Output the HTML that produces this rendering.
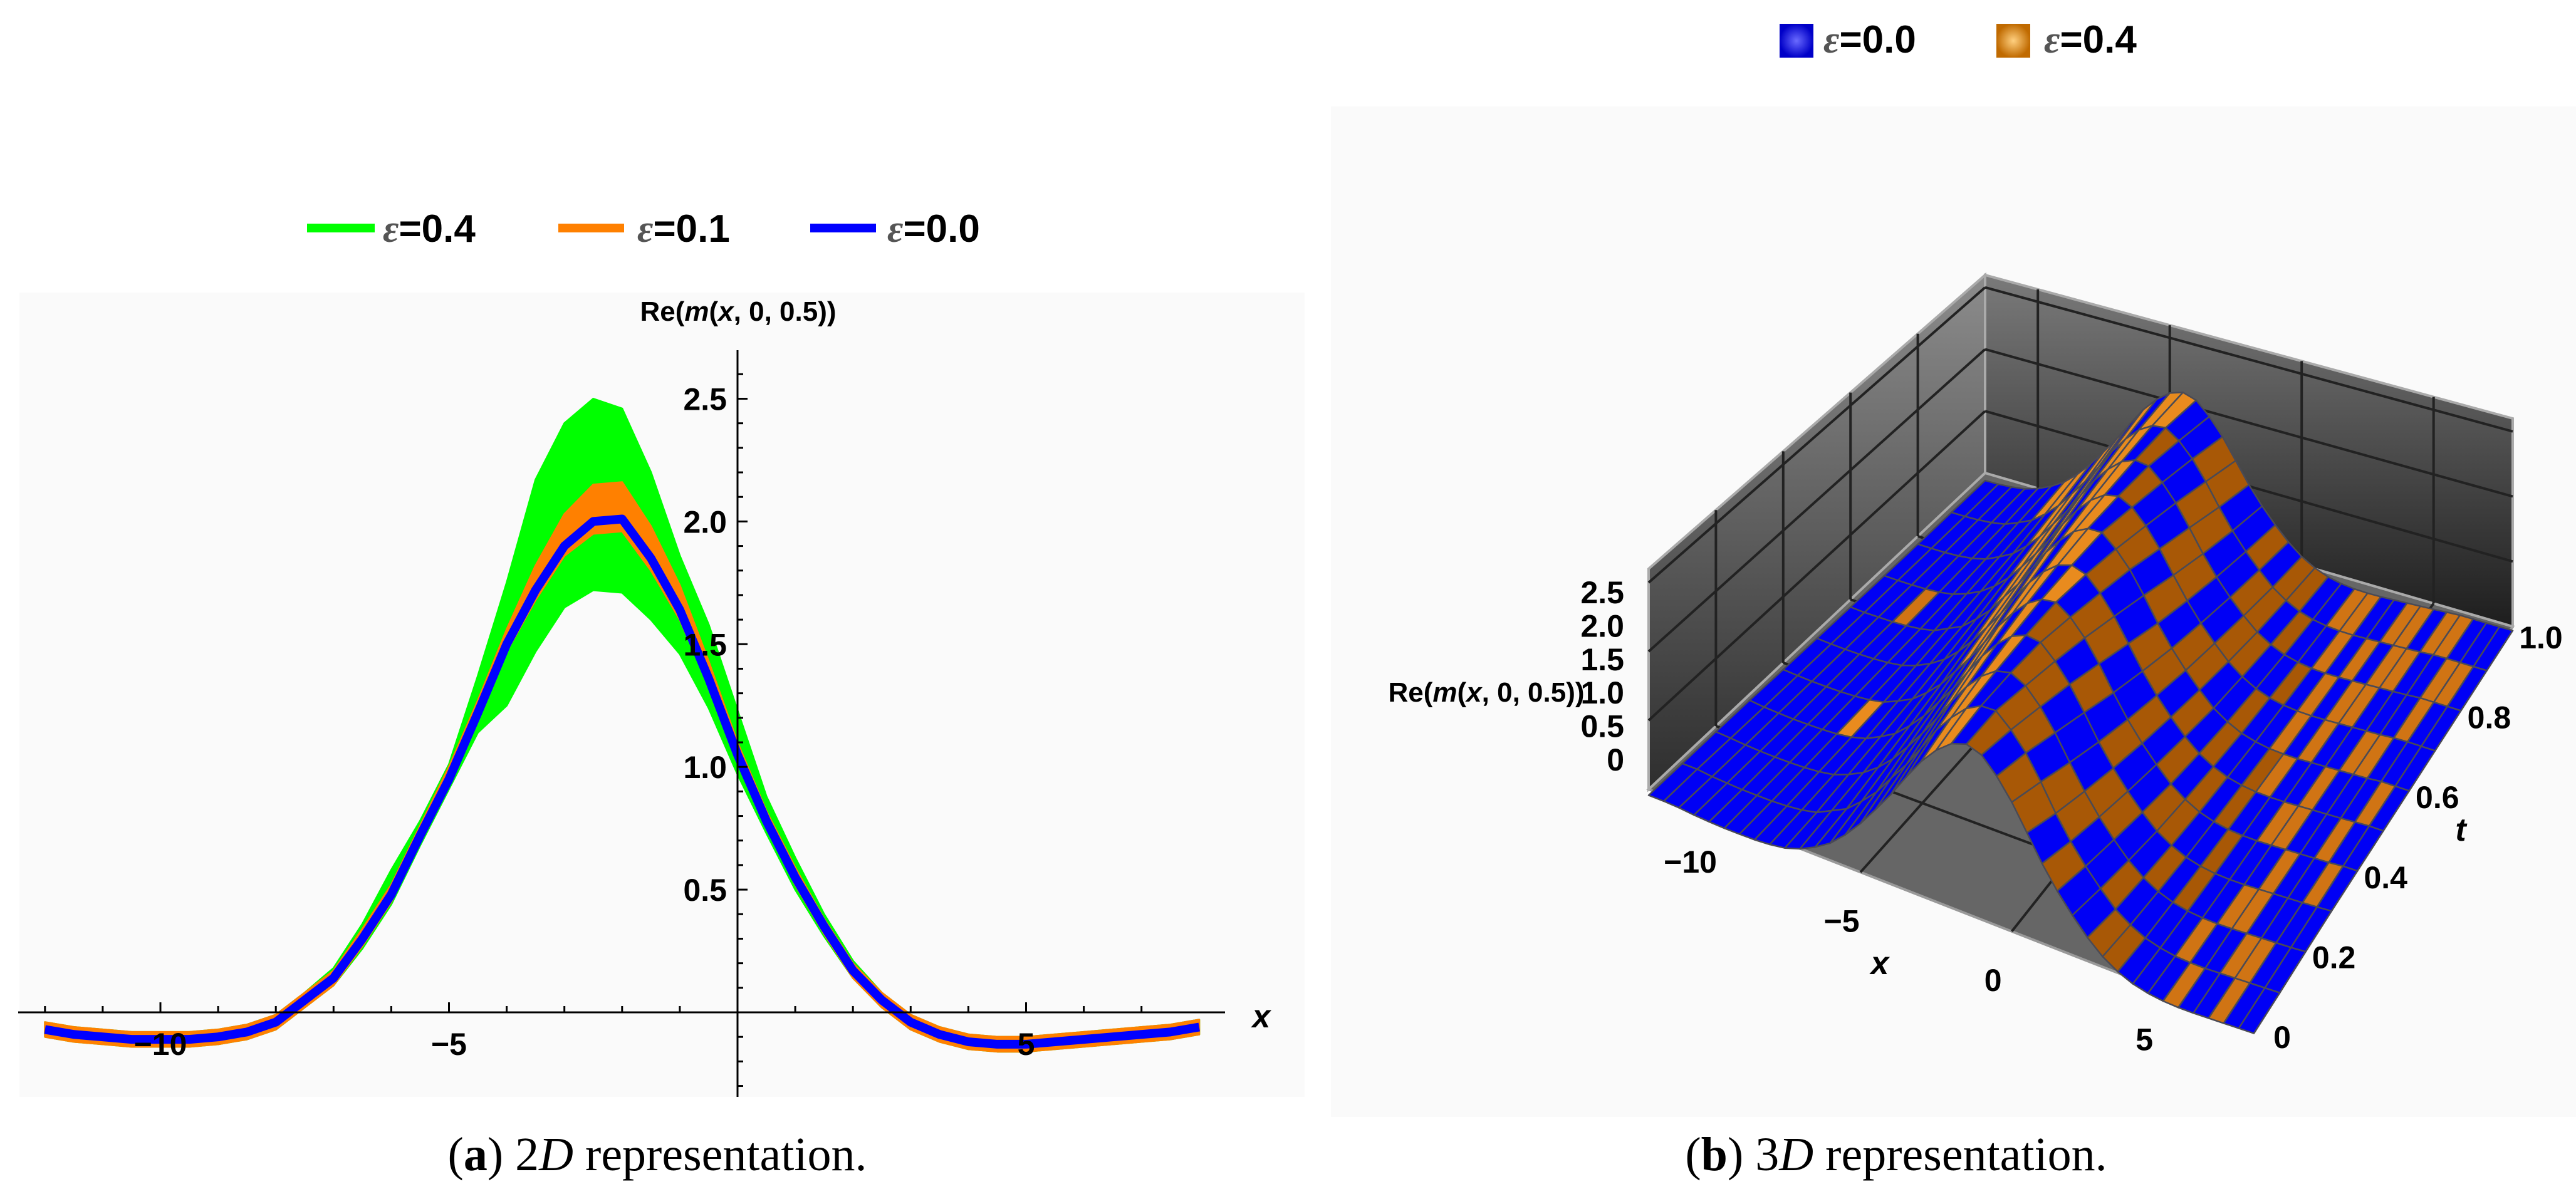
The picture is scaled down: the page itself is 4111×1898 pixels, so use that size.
<!DOCTYPE html>
<html><head><meta charset="utf-8"><style>
html,body{margin:0;padding:0;background:#fff;}
svg{display:block;}
</style></head><body>
<svg id="fig" width="4111" height="1898" viewBox="0 0 4111 1898" xmlns="http://www.w3.org/2000/svg" font-family="Liberation Sans, sans-serif">
<defs>
<linearGradient id="wallL" x1="0" y1="0" x2="0" y2="1"><stop offset="0" stop-color="#8c8c8c"/><stop offset="1" stop-color="#2e2e2e"/></linearGradient>
<linearGradient id="wallB" x1="0" y1="0" x2="0" y2="1"><stop offset="0" stop-color="#7a7a7a"/><stop offset="1" stop-color="#1e1e1e"/></linearGradient>
<radialGradient id="sqB"><stop offset="0" stop-color="#6a6aff"/><stop offset="1" stop-color="#0000c8"/></radialGradient>
<radialGradient id="sqO"><stop offset="0" stop-color="#ffd080"/><stop offset="1" stop-color="#c06a00"/></radialGradient>
</defs>
<rect x="31" y="467" width="2051" height="1284" fill="#fafafa"/>
<rect x="2124" y="170" width="1987" height="1613" fill="#fafafa"/>
<g id="legend2d">
 <line x1="490" y1="364" x2="598" y2="364" stroke="#00ff00" stroke-width="14"/>
 <text x="611" y="386" font-size="62" font-weight="bold"><tspan fill="#555" font-style="italic" style="font-family:'Liberation Serif',serif">ε</tspan>=0.4</text>
 <line x1="891" y1="364" x2="996" y2="364" stroke="#ff8000" stroke-width="14"/>
 <text x="1017" y="386" font-size="62" font-weight="bold"><tspan fill="#555" font-style="italic" style="font-family:'Liberation Serif',serif">ε</tspan>=0.1</text>
 <line x1="1293" y1="364" x2="1398" y2="364" stroke="#0000ff" stroke-width="14"/>
 <text x="1416" y="386" font-size="62" font-weight="bold"><tspan fill="#555" font-style="italic" style="font-family:'Liberation Serif',serif">ε</tspan>=0.0</text>
</g>
<g id="legend3d">
 <rect x="2840" y="38" width="54" height="54" fill="url(#sqB)"/>
 <text x="2910" y="84" font-size="62" font-weight="bold"><tspan fill="#555" font-style="italic" style="font-family:'Liberation Serif',serif">ε</tspan>=0.0</text>
 <rect x="3186" y="38" width="54" height="54" fill="url(#sqO)"/>
 <text x="3262" y="84" font-size="62" font-weight="bold"><tspan fill="#555" font-style="italic" style="font-family:'Liberation Serif',serif">ε</tspan>=0.4</text>
</g>
<g id="chart2d"></g>
<g id="chart3d"></g>
<text x="1049" y="1868" font-size="76" text-anchor="middle" style="font-family:'Liberation Serif',serif">(<tspan font-weight="bold">a</tspan>) 2<tspan font-style="italic">D</tspan> representation.</text>
<text x="3026" y="1868" font-size="76" text-anchor="middle" style="font-family:'Liberation Serif',serif">(<tspan font-weight="bold">b</tspan>) 3<tspan font-style="italic">D</tspan> representation.</text>
</svg>
<script>
// ---- data ----
const xValues = [-12,-11.5,-11,-10.5,-10,-9.5,-9,-8.5,-8,-7.5,-7,-6.5,-6,-5.5,-5,-4.5,-4,-3.5,-3,-2.5,-2,-1.5,-1,-0.5,0,0.5,1,1.5,2,2.5,3,3.5,4,4.5,5,5.5,6,6.5,7,7.5,8];
const eps00 = [-0.07,-0.09,-0.10,-0.11,-0.11,-0.11,-0.10,-0.08,-0.04,0.05,0.14,0.30,0.48,0.72,0.95,1.22,1.50,1.72,1.90,2.00,2.01,1.85,1.64,1.36,1.05,0.78,0.55,0.35,0.17,0.05,-0.04,-0.09,-0.12,-0.13,-0.13,-0.12,-0.11,-0.10,-0.09,-0.08,-0.06];
const eps01Up = [0.03,0.03,0.03,0.03,0.03,0.03,0.03,0.03,0.03,0.03,0.03,0.04,0.04,0.04,0.05,0.05,0.06,0.10,0.13,0.15,0.15,0.13,0.10,0.07,0.05,0.04,0.04,0.03,0.03,0.03,0.03,0.03,0.03,0.03,0.03,0.03,0.03,0.03,0.03,0.03,0.03];
const eps01Dn = [0.03,0.03,0.03,0.03,0.03,0.03,0.03,0.03,0.03,0.03,0.03,0.03,0.03,0.03,0.03,0.03,0.03,0.04,0.04,0.05,0.05,0.05,0.04,0.03,0.03,0.03,0.03,0.03,0.03,0.03,0.03,0.03,0.03,0.03,0.03,0.03,0.03,0.03,0.03,0.03,0.03];
const eps04Up = [0.03,0.03,0.03,0.03,0.03,0.03,0.03,0.03,0.03,0.03,0.04,0.06,0.10,0.06,0.06,0.15,0.25,0.45,0.50,0.50,0.45,0.35,0.22,0.22,0.18,0.10,0.08,0.05,0.04,0.03,0.03,0.03,0.03,0.03,0.03,0.03,0.03,0.03,0.03,0.03,0.03];
const eps04Dn = [0.03,0.03,0.03,0.03,0.03,0.03,0.03,0.03,0.03,0.03,0.03,0.04,0.04,0.04,0.04,0.08,0.25,0.25,0.25,0.28,0.30,0.25,0.18,0.12,0.08,0.05,0.05,0.04,0.03,0.03,0.03,0.03,0.03,0.03,0.03,0.03,0.03,0.03,0.03,0.03,0.03];
const xTickLabels = [-10,-5,5];
const yTickLabels = ["0.5","1.0","1.5","2.0","2.5"];
// 3D data
const tValues = [0,0.1,0.2,0.3,0.4,0.5,0.6,0.7,0.8,0.9,1.0];
const ridgePeakX = [-1.4,-1.7,-2.0,-2.3,-2.6,-2.9,-3.2,-3.5,-3.8,-4.1,-4.4];
const orangeMask = [
"0000000000000000001101011010011000100100",
"0000000000000000011001101100100001001100",
"0000000000000001101011000110010100110000",
"0000001000000011010110101001100100010010",
"0000000000001101101011001010101001100100",
"0000000000011010110100110101001100100010",
"0001000000110101101101011001001010011000",
"0000000001101011010011001100101011000100",
"0000000011010110100110011010010101100110",
"0000001101101011001100101100110011011000"];
const zTickLabels = ["0","0.5","1.0","1.5","2.0","2.5"];
const x3TickLabels = [-10,-5,0,5];
const t3TickLabels = ["0","0.2","0.4","0.6","0.8","1.0"];

const NS="http://www.w3.org/2000/svg";
function mk(tag,attrs,parent){const e=document.createElementNS(NS,tag);for(const k in attrs)e.setAttribute(k,attrs[k]);parent.appendChild(e);return e;}

// ---- 2D chart ----
const g2=document.getElementById('chart2d');
const X=u=>1177+u*92.1, Y=v=>1616-v*391.8;
function band(up,dn,color,name){
 let pts=[];
 xValues.forEach((x,i)=>pts.push(X(x)+','+Y(eps00[i]+up[i])));
 for(let i=xValues.length-1;i>=0;i--)pts.push(X(xValues[i])+','+Y(eps00[i]-dn[i]));
 const p=mk('polygon',{points:pts.join(' '),fill:color,stroke:color,'stroke-width':3,'stroke-linejoin':'round'},g2);
 
 
}
band(eps04Up,eps04Dn,'#00ff00','series-eps-0.4');
band(eps01Up,eps01Dn,'#ff8000','series-eps-0.1');
{
 const d=xValues.map((x,i)=>(i?'L':'M')+X(x)+','+Y(eps00[i])).join(' ');
 const p=mk('path',{d:d,fill:'none',stroke:'#0000ff','stroke-width':14,'stroke-linejoin':'round'},g2);
 
 
}
{
 const xa=mk('line',{x1:29,y1:Y(0),x2:1955,y2:Y(0),stroke:'#000','stroke-width':3},g2);
 
 
 const ya=mk('line',{x1:X(0),y1:559,x2:X(0),y2:1751,stroke:'#000','stroke-width':3},g2);
 
 
 for(let u=-12;u<=7;u++){const l=mk('line',{x1:X(u),y1:Y(0),x2:X(u),y2:Y(0)-(u%5===0?16:10),stroke:'#000','stroke-width':3},g2);}
 for(let k=-3;k<=26;k++){const v=k/10;if(k===0)continue;const maj=k%5===0;const l=mk('line',{x1:X(0),y1:Y(v),x2:X(0)+(maj?16:9),y2:Y(v),stroke:'#000','stroke-width':3},g2);}
 xTickLabels.forEach(v=>{const t=mk('text',{x:X(v),y:1684,'font-size':50,'font-weight':'bold','text-anchor':'middle'},g2);t.textContent=(v<0?'\u2212':'')+Math.abs(v);});
 yTickLabels.forEach(s=>{const t=mk('text',{x:1160,y:Y(parseFloat(s))+18,'font-size':50,'font-weight':'bold','text-anchor':'end'},g2);t.textContent=s;});
 const xt=mk('text',{x:2013,y:1640,'font-size':52,'font-style':'italic','font-weight':'bold','text-anchor':'middle'},g2);xt.textContent='x';
 
 
 const yt=mk('text',{x:1178,y:512,'font-size':44,'font-weight':'bold','text-anchor':'middle'},g2);
 yt.innerHTML='Re(<tspan font-style="italic">m</tspan>(<tspan font-style="italic">x</tspan>, 0, 0.5))';
 
 
}

// ---- 3D chart ----
const g3=document.getElementById('chart3d');
const FL=[2631,1260],FR=[3597,1638],BR=[4010,1000],BL=[3168,755];
const HFL=352,HFR=350,HBR=332,HBL=316;
function floorPt(x,t){const f=(x+12)/20;const p0=[FL[0]+(FR[0]-FL[0])*f,FL[1]+(FR[1]-FL[1])*f];const p1=[BL[0]+(BR[0]-BL[0])*f,BL[1]+(BR[1]-BL[1])*f];return [p0[0]+(p1[0]-p0[0])*t,p0[1]+(p1[1]-p0[1])*t];}
function boxH(x,t){const f=(x+12)/20;const a=HFL+(HFR-HFL)*f,b=HBL+(HBR-HBL)*f;return a+(b-a)*t;}
function P(x,t,z){const p=floorPt(x,t);const zs=(135-25*t);return [p[0],p[1]-z*zs];}
function profile(x){if(x<=xValues[0])return eps00[0];if(x>=xValues[xValues.length-1])return eps00[eps00.length-1];const i=Math.floor((x-xValues[0])/0.5);const fr=(x-xValues[i])/0.5;return eps00[i]+(eps00[i+1]-eps00[i])*fr;}
function H(x,ti){return profile(x-(ridgePeakX[ti]+2.2));}
const ps=a=>a.map(p=>p[0].toFixed(1)+','+p[1].toFixed(1)).join(' ');
{
 const fl=mk('polygon',{points:ps([FL,FR,BR,BL]),fill:'#666',stroke:'#999','stroke-width':4},g3);
 
 
 const tl=(x,t)=>{const p=floorPt(x,t);return [p[0],p[1]-boxH(x,t)];};
 const lw=mk('polygon',{points:ps([FL,BL,tl(-12,1),tl(-12,0)]),fill:'url(#wallL)',stroke:'#aaa','stroke-width':4},g3);
 
 
 const bw=mk('polygon',{points:ps([BL,BR,tl(8,1),tl(-12,1)]),fill:'url(#wallB)',stroke:'#aaa','stroke-width':4},g3);
 
 
 const gl=[];
 [0.2,0.4,0.6,0.8].forEach(t=>{gl.push([floorPt(-12,t),tl(-12,t)]);gl.push([floorPt(-12,t),floorPt(8,t)]);});
 [-10,-5,0,5].forEach(x=>{gl.push([floorPt(x,1),tl(x,1)]);gl.push([floorPt(x,0),floorPt(x,1)]);});
 [1/3.2,2/3.2,3/3.2].forEach(fr=>{const a=floorPt(-12,0),b=floorPt(-12,1),c=floorPt(8,1);gl.push([[a[0],a[1]-HFL*fr],[b[0],b[1]-HBL*fr]]);gl.push([[b[0],b[1]-HBL*fr],[c[0],c[1]-HBR*fr]]);});
 gl.forEach(s=>{const l=mk('line',{x1:s[0][0],y1:s[0][1],x2:s[1][0],y2:s[1][1],stroke:'#222','stroke-width':4},g3);});
}
const surf=mk('g',{},g3);


for(let ti=tValues.length-2;ti>=0;ti--){
 const row=orangeMask[ti]||'';
 for(let xi=0;xi<xValues.length-1;xi++){
  const x0=xValues[xi],x1=xValues[xi+1],t0=tValues[ti],t1=tValues[ti+1];
  const q=[P(x0,t0,H(x0,ti)),P(x1,t0,H(x1,ti)),P(x1,t1,H(x1,ti+1)),P(x0,t1,H(x0,ti+1))];
  const orange=row.charAt(xi)==='1';
  const slope=H(x1,ti)-H(x0,ti);
  const col=orange?(slope>0.02?'#e98b1e':(slope<-0.02?'#a85806':'#d07414')):'#0000f5';
  const c=mk('polygon',{points:ps(q),fill:col,stroke:'#4a4a55','stroke-width':2.5,'stroke-linejoin':'round'},surf);
  
  
 }
}
zTickLabels.forEach((s,i)=>{const t=mk('text',{x:2592,y:1230-i*53.4,'font-size':50,'font-weight':'bold','text-anchor':'end'},g3);t.textContent=s;});
{
 const zt=mk('text',{x:2372,y:1120,'font-size':44,'font-weight':'bold','text-anchor':'middle'},g3);
 zt.innerHTML='Re(<tspan font-style="italic">m</tspan>(<tspan font-style="italic">x</tspan>, 0, 0.5))';
 
 
}
x3TickLabels.forEach(v=>{const p=floorPt(v,0);const t=mk('text',{x:p[0]-30,y:p[1]+95,'font-size':50,'font-weight':'bold','text-anchor':'middle'},g3);t.textContent=(v<0?'\u2212':'')+Math.abs(v);});
t3TickLabels.forEach(s=>{const p=floorPt(8,parseFloat(s));const t=mk('text',{x:p[0]+45,y:p[1]+35,'font-size':50,'font-weight':'bold','text-anchor':'middle'},g3);t.textContent=s;});
{
 const a=mk('text',{x:3000,y:1555,'font-size':52,'font-weight':'bold','font-style':'italic','text-anchor':'middle'},g3);a.textContent='x';
 
 
 const b=mk('text',{x:3927,y:1342,'font-size':52,'font-weight':'bold','font-style':'italic','text-anchor':'middle'},g3);b.textContent='t';
 
 
}
</script>
</body></html>
